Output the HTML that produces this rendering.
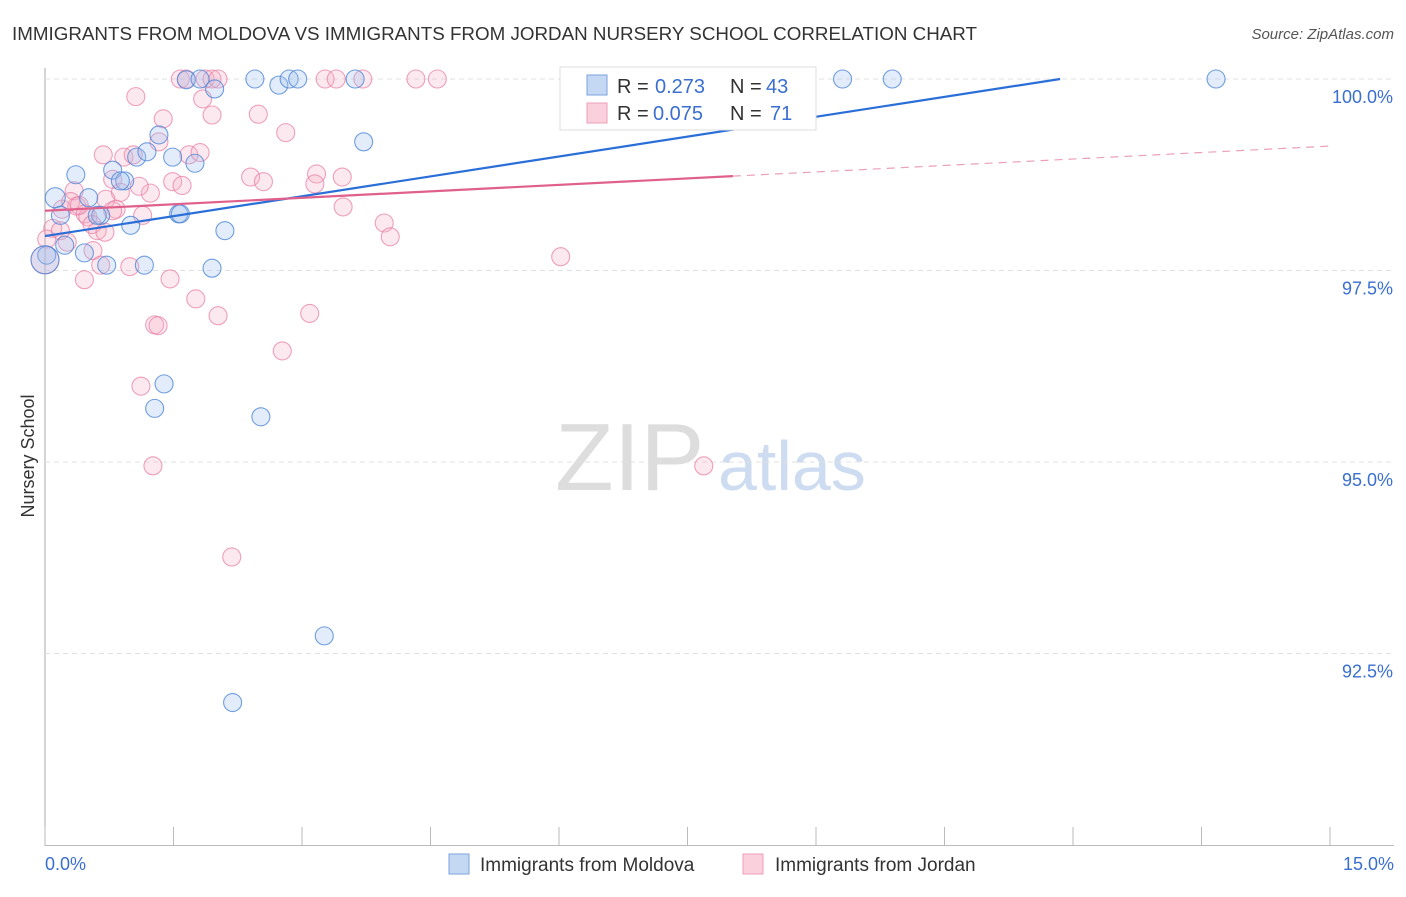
<!DOCTYPE html>
<html><head><meta charset="utf-8"><style>
body{margin:0;background:#fff;font-family:"Liberation Sans",sans-serif;}
svg text{font-family:"Liberation Sans",sans-serif;}
</style></head><body>
<svg id="chart" width="1406" height="892">
<text x="12" y="40" font-size="18" fill="#333" textLength="965" lengthAdjust="spacingAndGlyphs">IMMIGRANTS FROM MOLDOVA VS IMMIGRANTS FROM JORDAN NURSERY SCHOOL CORRELATION CHART</text>
<text x="1394" y="39" font-size="15" fill="#555" font-style="italic" text-anchor="end">Source: ZipAtlas.com</text>
<text x="34" y="456" font-size="18" fill="#333" transform="rotate(-90 34 456)" text-anchor="middle">Nursery School</text>
<g><text x="555" y="490" font-size="96" fill="#ddd" font-family="Liberation Serif">ZIP</text><text x="718" y="490" font-size="70" fill="#cddcf0">atlas</text></g>
<g id="grid"></g><g id="pts"></g><g id="lines"></g>
<g>
<rect x="560" y="67" width="256" height="63" fill="#fff" stroke="#ddd"/>
<rect x="587" y="75" width="20" height="20" fill="#c4d8f4" stroke="#7ba3de"/>
<rect x="587" y="103" width="20" height="20" fill="#fbd0dd" stroke="#ec9fb8"/>
<text x="617" y="93" font-size="20" fill="#333">R =</text><text x="655" y="93" font-size="20" fill="#3a6fd0">0.273</text>
<text x="730" y="93" font-size="20" fill="#333">N =</text><text x="766" y="93" font-size="20" fill="#3a6fd0">43</text>
<text x="617" y="120" font-size="20" fill="#333">R =</text><text x="653" y="120" font-size="20" fill="#3a6fd0">0.075</text>
<text x="730" y="120" font-size="20" fill="#333">N =</text><text x="770" y="120" font-size="20" fill="#3a6fd0">71</text>
</g>
<g>
<rect x="449" y="854" width="20" height="20" fill="#c4d8f4" stroke="#7ba3de"/>
<text x="480" y="871" font-size="19" fill="#333">Immigrants from Moldova</text>
<rect x="743" y="854" width="20" height="20" fill="#fbd0dd" stroke="#ec9fb8"/>
<text x="775" y="871" font-size="19" fill="#333">Immigrants from Jordan</text>
</g>
<text x="45" y="870" font-size="18" fill="#3a6fd0">0.0%</text>
<text x="1394" y="870" font-size="18" fill="#3a6fd0" text-anchor="end">15.0%</text>
</svg>
<script>
const yTicks=[100,97.5,95,92.5];
const yTickLabels=["100.0%","97.5%","95.0%","92.5%"];
const xTicks=[0,1.5,3,4.5,6,7.5,9,10.5,12,13.5,15];
const moldovaX=[0.12,0.36,0.51,0.65,0.79,0.93,1.00,1.07,1.19,1.33,1.49,1.56,1.75,1.65,1.81,1.98,2.10,2.45,2.73,2.85,2.95,3.62,3.72,7.97,9.31,9.89,13.67,0.72,1.16,1.95,1.39,1.28,2.52,3.26,2.19,0.46,0.23,0.02,0.18,0.88,1.58,0.61,0.0];
const moldovaY=[98.45,98.75,98.45,98.22,98.81,98.67,98.09,98.98,99.05,99.27,98.98,98.24,98.90,99.99,100,99.87,98.02,100,99.92,100,100,100,99.18,100,100,100,100,97.57,97.57,97.53,96.02,95.70,95.59,92.73,91.86,97.73,97.83,97.70,98.22,98.67,98.24,98.22,97.64];
const jordanX=[1.58,1.65,1.87,1.95,2.02,3.27,3.40,3.71,4.33,4.58,1.06,1.84,1.38,1.95,2.49,2.81,1.33,0.68,0.92,1.03,1.68,1.81,3.17,0.79,1.49,1.60,2.40,2.55,3.15,3.47,0.88,1.23,0.34,0.71,0.20,0.37,0.83,1.14,0.47,0.61,0.09,0.02,0.26,0.56,0.65,0.99,1.46,0.46,1.76,2.02,3.09,1.28,1.32,2.77,1.12,1.26,7.69,2.18,3.48,3.96,4.03,6.02,0.0,0.18,0.79,0.50,0.30,0.40,0.55,1.10,0.70];
const jordanY=[100,100,100,100,100,100,100,100,100,100,99.77,99.74,99.48,99.53,99.54,99.30,99.18,99.01,98.98,99.01,99.01,99.04,98.76,98.69,98.66,98.61,98.72,98.66,98.63,98.72,98.52,98.51,98.54,98.43,98.30,98.34,98.30,98.22,98.24,98.02,98.05,97.91,97.87,97.76,97.57,97.55,97.39,97.38,97.13,96.91,96.94,96.79,96.78,96.45,95.99,94.95,94.95,93.76,98.33,98.12,97.94,97.68,97.64,98.02,98.28,98.20,98.40,98.35,98.10,98.60,98.00];
const moldovaTrend=[97.95,0.173];
const jordanTrend=[98.28,0.0563];
const NS="http://www.w3.org/2000/svg";
const X=v=>45+v/15*1285, Y=v=>79+(100-v)/2.5*191.5;
function mk(t,a,p){const e=document.createElementNS(NS,t);for(const k in a)e.setAttribute(k,a[k]);p.appendChild(e);return e;}
const g=document.getElementById('grid');
mk('line',{x1:45,y1:68,x2:45,y2:846,stroke:'#aaa'},g);
mk('line',{x1:45,y1:845.5,x2:1394,y2:845.5,stroke:'#bbb'},g);
yTicks.forEach((t,i)=>{
 const l=mk('line',{x1:45,y1:Y(t),x2:1394,y2:Y(t),stroke:'#e0e0e0','stroke-dasharray':'5,4'},g);
 
 
 const tx=mk('text',{x:1393,y:Y(t)+24,'font-size':18,fill:'#3a6fd0','text-anchor':'end'},g);
 tx.textContent=yTickLabels[i];
 
 
});
xTicks.forEach(t=>{
 const l=mk('line',{x1:X(t),y1:827,x2:X(t),y2:845,stroke:'#bbb'},g);
 
 
});
const p=document.getElementById('pts');
jordanX.forEach((x,i)=>{
 const c=mk('circle',{cx:X(x),cy:Y(jordanY[i]),r:i==62?14:9,fill:'rgba(246,175,198,0.28)',stroke:'rgba(232,130,165,0.75)','stroke-width':1.1},p);
 
 
});
moldovaX.forEach((x,i)=>{
 const c=mk('circle',{cx:X(x),cy:Y(moldovaY[i]),r:i==42?14:(i==0?10:9),fill:'rgba(160,192,238,0.3)',stroke:'rgba(80,135,215,0.8)','stroke-width':1.1},p);
 
 
});
const L=document.getElementById('lines');
const xe=(100-moldovaTrend[0])/moldovaTrend[1];
let b=mk('line',{x1:X(0),y1:Y(moldovaTrend[0]),x2:X(xe),y2:Y(100),stroke:'#2a6ed8','stroke-width':2.2},L);


let pk=mk('line',{x1:X(0),y1:Y(jordanTrend[0]),x2:X(8.03),y2:Y(jordanTrend[0]+jordanTrend[1]*8.03),stroke:'#e0608c','stroke-width':2.2},L);


let pd=mk('line',{x1:X(8.03),y1:Y(jordanTrend[0]+jordanTrend[1]*8.03),x2:X(15),y2:Y(jordanTrend[0]+jordanTrend[1]*15),stroke:'#eaa0b8','stroke-width':1.2,'stroke-dasharray':'8,6'},L);


</script>
</body></html>
